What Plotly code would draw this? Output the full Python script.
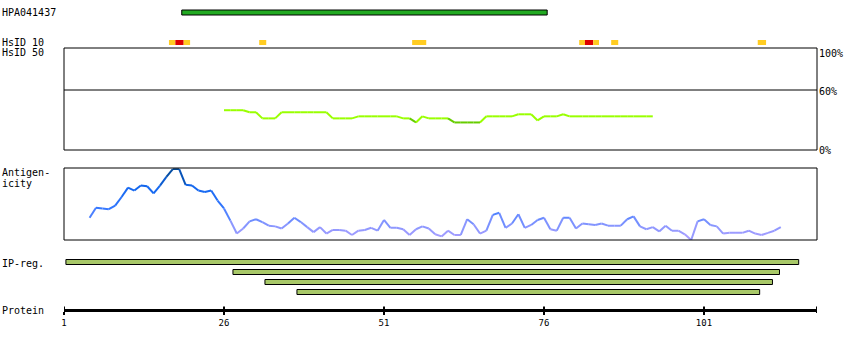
import plotly.graph_objects as go

# ---------------- data ----------------
protein_length = 118.66
tick_residues = [1, 26, 51, 76, 101]
tick_labels = ["1", "26", "51", "76", "101"]

hpa_name = "HPA041437"
hpa_start, hpa_end = 19.4, 76.5

hsid_start = [17.4, 18.4, 19.7, 31.5, 55.4, 81.5, 82.4, 83.7, 86.5, 109.4]
hsid_end = [18.4, 19.7, 20.7, 32.6, 57.6, 82.4, 83.7, 84.6, 87.6, 110.7]
hsid_kind = ["y", "r", "y", "y", "y", "y", "r", "y", "y", "y"]

sim_residues = list(range(26, 94))
sim_values = [39, 39, 39, 39, 37, 37, 31, 31, 31,
              37, 37, 37, 37, 37, 37, 37, 37,
              31, 31, 31, 31,
              33, 33, 33, 33, 33, 33, 33,
              31, 31, 27, 33, 31, 31, 31, 31,
              27, 27, 27, 27, 27,
              33, 33, 33, 33, 33,
              35, 35, 35, 29, 33, 33, 33, 35,
              33, 33, 33, 33, 33, 33, 33, 33, 33, 33, 33, 33, 33, 33]

ant_residues = list(range(5, 114))
ant_values = [31, 45, 44, 43, 48, 60, 73, 69, 76, 75, 65, 76, 88, 99, 99, 77, 76, 69, 67, 69,
              55, 44, 27, 9, 16, 26, 29, 25, 20, 19, 16, 23, 31, 25, 18, 11, 18, 9, 14, 14,
              13, 7, 13, 14, 17, 13, 28, 17, 17, 15, 7, 15, 19, 16, 8, 5, 13, 7, 7, 29,
              22, 9, 13, 35, 38, 17, 23, 36, 17, 21, 28, 31, 15, 13, 31, 31, 16, 23, 22, 21,
              23, 20, 20, 20, 29, 33, 19, 15, 18, 12, 20, 13, 13, 8, 0, 26, 29, 21, 19, 9,
              10, 10, 10, 13, 9, 7, 10, 13, 18]

ipreg_start = [1.3, 27.4, 32.4, 37.4]
ipreg_end = [115.8, 112.8, 111.7, 109.7]

# ---------------- layout helpers ----------------
W, H = 850, 350
L, R = 64, 33
FONT = "DejaVu Sans Mono"


def py(p):
    return 1 - p / H


def pxp(p):
    return (p - L) / (W - L - R)


def ant_color(v):
    stops = [(0, (176, 160, 255)), (20, (136, 150, 255)), (45, (51, 119, 255)),
             (75, (17, 102, 238)), (100, (0, 68, 136))]
    for (a, ca), (b, cb) in zip(stops[:-1], stops[1:]):
        if v <= b:
            t = (v - a) / (b - a)
            c = [round(ca[k] + (cb[k] - ca[k]) * t) for k in range(3)]
            return "rgb(%d,%d,%d)" % tuple(c)
    return "rgb(0,68,136)"


fig = go.Figure()

# similarity line
for i in range(len(sim_residues) - 1):
    col = "#66cc00" if sim_values[i + 1] < 28 else "#99ff00"
    fig.add_trace(go.Scatter(x=sim_residues[i:i + 2], y=sim_values[i:i + 2], mode="lines",
                             line=dict(color=col, width=2), yaxis="y", showlegend=False,
                             hoverinfo="skip"))

# antigenicity line
for i in range(len(ant_residues) - 1):
    col = ant_color((ant_values[i] + ant_values[i + 1]) / 2)
    fig.add_trace(go.Scatter(x=ant_residues[i:i + 2], y=ant_values[i:i + 2], mode="lines",
                             line=dict(color=col, width=2), yaxis="y2", showlegend=False,
                             hoverinfo="skip"))

shapes = []
# HPA bar
shapes.append(dict(type="rect", xref="x", yref="paper", x0=hpa_start, x1=hpa_end,
                   y0=py(15), y1=py(10), fillcolor="#22aa22", line=dict(color="black", width=1)))
# HsID squares
for s, e, k in zip(hsid_start, hsid_end, hsid_kind):
    shapes.append(dict(type="rect", xref="x", yref="paper", x0=s, x1=e, y0=py(45), y1=py(40),
                       fillcolor="#dd0000" if k == "r" else "#ffcc22", line=dict(width=0)))
# similarity box
shapes.append(dict(type="rect", xref="paper", yref="paper", x0=0, x1=1, y0=py(150), y1=py(48),
                   line=dict(color="black", width=1)))
shapes.append(dict(type="line", xref="paper", yref="paper", x0=0, x1=1, y0=py(90), y1=py(90),
                   line=dict(color="black", width=1)))
# antigenicity box
shapes.append(dict(type="rect", xref="paper", yref="paper", x0=0, x1=1, y0=py(240), y1=py(168),
                   line=dict(color="black", width=1)))
# IP-reg bars
for j, (s, e) in enumerate(zip(ipreg_start, ipreg_end)):
    yc = 262 + j * 10
    shapes.append(dict(type="rect", xref="x", yref="paper", x0=s, x1=e, y0=py(yc + 2.5),
                       y1=py(yc - 2.5), fillcolor="#a8c868", line=dict(color="black", width=1)))
# protein axis ticks above line
for t in tick_residues + [protein_length]:
    shapes.append(dict(type="line", xref="x", yref="paper", x0=t, x1=t, y0=py(313), y1=py(306.5),
                       line=dict(color="black", width=2)))

annotations = []


def label(text, x, y, anchor="left"):
    annotations.append(dict(text=text, xref="paper", yref="paper", x=pxp(x), y=py(y),
                            xanchor=anchor, yanchor="middle", showarrow=False, borderpad=0,
                            font=dict(family=FONT, size=10, color="black")))


label(hpa_name, 1, 12.5)
label("HsID 10", 1, 42.3)
label("HsID 50", 1, 52.7)
label("Antigen-", 1, 173)
label("icity", 1, 183)
label("IP-reg.", 1, 263)
label("Protein", 1, 310)
label("100%", 818, 53)
label("60%", 818, 91)
label("0%", 818, 150)

fig.update_layout(
    width=W, height=H, autosize=False,
    margin=dict(l=L, r=R, t=0, b=0, pad=0),
    paper_bgcolor="white", plot_bgcolor="rgba(0,0,0,0)",
    showlegend=False,
    shapes=shapes, annotations=annotations,
    xaxis=dict(range=[1, protein_length], domain=[0, 1], anchor="free", position=py(310),
               showline=True, linewidth=3, linecolor="black", showgrid=False, zeroline=False,
               ticks="outside", ticklen=3, tickwidth=2, tickcolor="black",
               tickvals=tick_residues, ticktext=tick_labels,
               tickfont=dict(family=FONT, size=9, color="black")),
    yaxis=dict(domain=[py(150), py(48)], range=[0, 100], visible=False),
    yaxis2=dict(domain=[py(240), py(168.33)], range=[0, 100], visible=False, anchor="x"),
)

fig.write_html("out.html")
